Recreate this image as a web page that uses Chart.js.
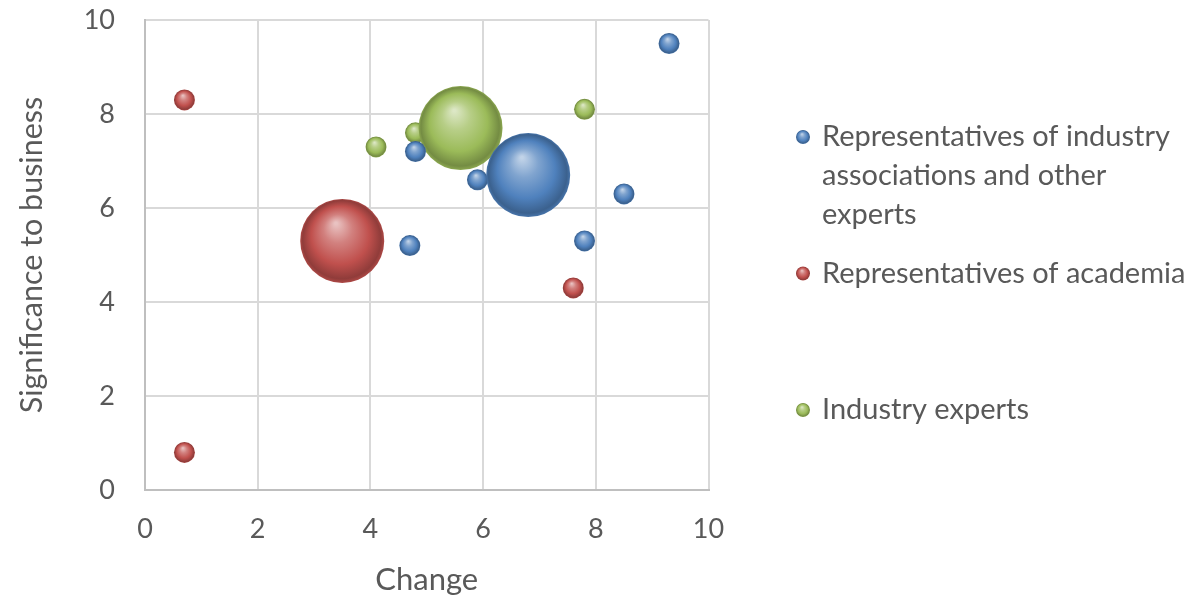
<!DOCTYPE html>
<html>
<head>
<meta charset="utf-8">
<script src="https://cdn.jsdelivr.net/npm/chart.js@4.4.1/dist/chart.umd.min.js"></script>
<style>
  html, body { margin: 0; padding: 0; background: #ffffff; }
  #wrap { width: 1198px; height: 601px; position: relative; }
</style>
</head>
<body>
<div id="wrap"><canvas id="chart" width="1198" height="601"></canvas></div>
<script>
// Series names, split into the lines shown in the legend
const seriesLabels = [
  ["Representatives of industry", "associations and other", "experts"],
  ["Representatives of academia"],
  ["Industry experts"]
];

// Representatives of industry associations and other experts
const industryChange = [9.3, 4.8, 5.9, 6.8, 8.5, 7.8, 4.7];
const industrySignif = [9.5, 7.2, 6.6, 6.7, 6.3, 5.3, 5.2];
const industrySize   = [1, 1, 1, 16, 1, 1, 1];

// Representatives of academia
const academiaChange = [0.7, 3.5, 7.6, 0.7];
const academiaSignif = [8.3, 5.3, 4.3, 0.8];
const academiaSize   = [1, 16, 1, 1];

// Industry experts
const expertsChange = [4.1, 4.8, 5.6, 7.8];
const expertsSignif = [7.3, 7.6, 7.7, 8.1];
const expertsSize   = [1, 1, 16, 1];

const axisTicks = [0, 2, 4, 6, 8, 10];

const FONT = "Lato, 'Open Sans', sans-serif";
const TEXT_COLOR = '#595959';
const BUBBLE_UNIT = 10.5; // radius in px of a size-1 bubble

const palette = ['#4f81bd', '#c0504d', '#9bbb59'];

function hexToRgb(h) {
  const n = parseInt(h.slice(1), 16);
  return [(n >> 16) & 255, (n >> 8) & 255, n & 255];
}
function mix(hex, target, t) {
  const a = hexToRgb(hex), b = hexToRgb(target);
  const c = a.map((v, i) => Math.round(v + (b[i] - v) * t));
  return `rgb(${c[0]},${c[1]},${c[2]})`;
}

// Shaded sphere look: highlight near the top, darker rim at the bottom
function sphereGradient(ctx2d, x, y, r, base) {
  const g = ctx2d.createRadialGradient(x - r * 0.15, y - r * 0.42, r * 0.03, x, y, r);
  g.addColorStop(0, mix(base, '#ffffff', 0.65));
  g.addColorStop(0.32, mix(base, '#ffffff', 0.28));
  g.addColorStop(0.68, base);
  g.addColorStop(0.93, mix(base, '#000000', 0.25));
  g.addColorStop(1, mix(base, '#000000', 0.1));
  return g;
}

function buildPoints(xs, ys, sizes) {
  return xs.map((x, i) => ({ x: x, y: ys[i], size: sizes[i] }));
}

function makeDataset(label, xs, ys, sizes, color) {
  return {
    label: label.join(' '),
    data: buildPoints(xs, ys, sizes),
    baseColor: color,
    borderWidth: 0,
    hoverBorderWidth: 0,
    radius: (c) => (c.raw ? BUBBLE_UNIT * Math.sqrt(c.raw.size) : BUBBLE_UNIT),
    hoverRadius: 0,
    backgroundColor: (c) => {
      if (c.type !== 'data' || !c.raw) return color;
      const chart = c.chart;
      const sx = chart.scales.x, sy = chart.scales.y;
      if (!sx || !sy) return color;
      const px = sx.getPixelForValue(c.raw.x);
      const py = sy.getPixelForValue(c.raw.y);
      const r = BUBBLE_UNIT * Math.sqrt(c.raw.size);
      if (!isFinite(px) || !isFinite(py)) return color;
      return sphereGradient(chart.ctx, px, py, r, color);
    }
  };
}

// Legend drawn to the right of the plot with wrapped labels
const sideLegend = {
  id: 'sideLegend',
  afterDraw(chart) {
    const ctx = chart.ctx;
    const markerX = 803, textX = 822;
    const firstY = 137, itemStep = 136.5, lineStep = 39;
    ctx.save();
    ctx.font = `29px ${FONT}`;
    ctx.textBaseline = 'middle';
    ctx.textAlign = 'left';
    chart.data.datasets.forEach((ds, i) => {
      const y = firstY + i * itemStep;
      const r = 7;
      ctx.beginPath();
      ctx.arc(markerX, y, r, 0, Math.PI * 2);
      ctx.fillStyle = sphereGradient(ctx, markerX, y, r, ds.baseColor);
      ctx.fill();
      ctx.fillStyle = TEXT_COLOR;
      seriesLabels[i].forEach((line, j) => {
        ctx.fillText(line, textX, y + j * lineStep);
      });
    });
    ctx.restore();
  }
};

// Keep the plot edges fixed: no extra room reserved for edge tick labels
function fixScalePadding(s) {
  s.paddingTop = 0;
  s.paddingBottom = 0;
  s.paddingLeft = 0;
  s.paddingRight = 0;
}

const chart = new Chart(document.getElementById('chart'), {
  type: 'bubble',
  data: {
    datasets: [
      makeDataset(seriesLabels[0], industryChange, industrySignif, industrySize, palette[0]),
      makeDataset(seriesLabels[1], academiaChange, academiaSignif, academiaSize, palette[1]),
      makeDataset(seriesLabels[2], expertsChange, expertsSignif, expertsSize, palette[2])
    ]
  },
  options: {
    responsive: false,
    animation: false,
    events: [],
    layout: { autoPadding: false, padding: { top: 20, right: 489.5, left: 0, bottom: 0 } },
    plugins: {
      legend: { display: false },
      tooltip: { enabled: false }
    },
    scales: {
      x: {
        type: 'linear',
        min: axisTicks[0],
        max: axisTicks[axisTicks.length - 1],
        afterBuildTicks: (s) => { s.ticks = axisTicks.map(v => ({ value: v })); },
        afterFit: (s) => { s.height = 111; fixScalePadding(s); },
        ticks: { color: TEXT_COLOR, font: { family: FONT, size: 27 }, padding: 23 },
        grid: { color: '#d9d9d9', lineWidth: 2, drawTicks: false },
        border: { color: '#bfbfbf', width: 2 },
        title: {
          display: true, text: 'Change', color: TEXT_COLOR,
          font: { family: FONT, size: 31 }, padding: { top: 0, bottom: 2 }
        }
      },
      y: {
        type: 'linear',
        min: axisTicks[0],
        max: axisTicks[axisTicks.length - 1],
        afterBuildTicks: (s) => { s.ticks = axisTicks.map(v => ({ value: v })); },
        afterFit: (s) => { s.width = 145; fixScalePadding(s); },
        ticks: { color: TEXT_COLOR, font: { family: FONT, size: 27 }, padding: 30 },
        grid: { color: '#d9d9d9', lineWidth: 2, drawTicks: false },
        border: { color: '#bfbfbf', width: 2 },
        title: {
          display: true, text: 'Significance to business', color: TEXT_COLOR,
          font: { family: FONT, size: 30.5 }, padding: { top: 14, bottom: 0 }
        }
      }
    }
  },
  plugins: [sideLegend]
});
</script>
</body>
</html>
